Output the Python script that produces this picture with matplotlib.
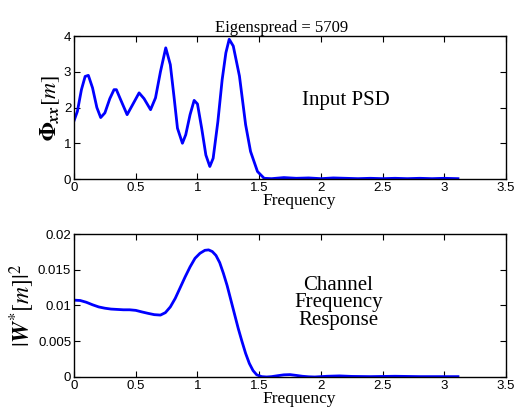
import matplotlib.pyplot as plt

plt.rcParams['mathtext.fontset'] = 'stix'

# input PSD (top panel)
psd_freq = [0.0, 0.027, 0.06, 0.09, 0.116, 0.15, 0.185, 0.216, 0.25, 0.29, 0.324, 0.343,
            0.38, 0.43, 0.47, 0.527, 0.567, 0.62, 0.66, 0.70, 0.743, 0.78, 0.81, 0.838,
            0.878, 0.905, 0.94, 0.973, 1.0, 1.035, 1.068, 1.1, 1.127, 1.165, 1.2, 1.23,
            1.257, 1.29, 1.34, 1.39, 1.43, 1.486, 1.54, 1.6, 1.7, 1.8, 1.9, 2.0, 2.1,
            2.2, 2.3, 2.4, 2.5, 2.6, 2.7, 2.8, 2.9, 3.0, 3.11]
psd_vals = [1.63, 1.89, 2.5, 2.87, 2.90, 2.55, 2.0, 1.72, 1.85, 2.25, 2.50, 2.50,
            2.2, 1.80, 2.05, 2.41, 2.25, 1.94, 2.27, 3.0, 3.67, 3.2, 2.3, 1.42,
            1.0, 1.24, 1.8, 2.2, 2.1, 1.4, 0.67, 0.35, 0.58, 1.6, 2.78, 3.53,
            3.91, 3.72, 2.88, 1.52, 0.77, 0.21, 0.02, 0.01, 0.04, 0.02, 0.03, 0.01, 0.03,
            0.02, 0.01, 0.02, 0.01, 0.02, 0.01, 0.02, 0.01, 0.02, 0.01]

# channel response (bottom panel)
ch_freq = [0.0, 0.05, 0.1, 0.15, 0.2, 0.25, 0.3, 0.35, 0.4, 0.45, 0.5, 0.55, 0.6,
           0.65, 0.7, 0.74, 0.78, 0.82, 0.86, 0.9, 0.94, 0.98, 1.02, 1.06, 1.09,
           1.12, 1.15, 1.18, 1.21, 1.24, 1.27, 1.3, 1.33, 1.36, 1.39, 1.42, 1.45,
           1.48, 1.52, 1.56, 1.6, 1.65, 1.7, 1.75, 1.8, 1.85, 1.9, 1.95, 2.05, 2.15,
           2.25, 2.4, 2.6, 2.8, 3.0, 3.11]
ch_vals = [0.01075, 0.0107, 0.01045, 0.0101, 0.0098, 0.00962, 0.0095, 0.00945,
           0.0094, 0.0094, 0.00932, 0.0091, 0.0089, 0.00872, 0.00866, 0.0090,
           0.0098, 0.0110, 0.0125, 0.0140, 0.0154, 0.0166, 0.0173, 0.01772, 0.01778,
           0.01755, 0.0170, 0.0160, 0.0145, 0.0128, 0.0108, 0.0088, 0.0068, 0.0050,
           0.0033, 0.0019, 0.0009, 0.0003, 0.00005, 0.0, 0.00005, 0.00018, 0.0003,
           0.00033, 0.00022, 0.0001, 0.00003, 0.0, 0.0001, 0.00015, 0.00008,
           0.00005, 0.0001, 0.00005, 0.00005, 0.00005]

fig = plt.figure(figsize=(5.25, 4.12), dpi=100)
ax1 = fig.add_axes([0.141, 0.5655, 0.823, 0.347])
ax2 = fig.add_axes([0.141, 0.085, 0.823, 0.347])

serif = 'Liberation Serif'
sans = 'Liberation Sans'

ax1.plot(psd_freq, psd_vals, color='blue', lw=2)
ax1.set_xlim(0, 3.5)
ax1.set_ylim(0, 4)
ax1.set_yticks([0, 1, 2, 3, 4])
ax1.set_title('Eigenspread = 5709', family=serif, fontsize=12, pad=3, x=0.48)
ax1.set_ylabel(r'$\mathbf{\Phi}_{\mathbfit{xx}}[m]$', fontsize=16, labelpad=1)
ax1.set_xlabel('Frequency', family=serif, fontsize=12.5, labelpad=0)
ax1.xaxis.set_label_coords(0.52, -0.1)
ax1.text(2.2, 2.2, 'Input PSD', family=serif, fontsize=15, ha='center', va='center')

ax2.plot(ch_freq, ch_vals, color='blue', lw=2)
ax2.set_xlim(0, 3.5)
ax2.set_ylim(0, 0.02)
ax2.set_yticks([0, 0.005, 0.01, 0.015, 0.02])
ax2.set_yticklabels(['0', '0.005', '0.01', '0.015', '0.02'])
ax2.set_ylabel(r'$|\mathbfit{W}^{*}[m]|^2$', fontsize=17, labelpad=1)
ax2.set_xlabel('Frequency', family=serif, fontsize=12.5, labelpad=0)
ax2.xaxis.set_label_coords(0.52, -0.1)
ax2.text(2.14, 0.0104, 'Channel\nFrequency\nResponse', family=serif, fontsize=15,
         ha='center', va='center', linespacing=0.9)

for ax in (ax1, ax2):
    ax.set_xticks([0, 0.5, 1, 1.5, 2, 2.5, 3, 3.5])
    ax.set_xticklabels(['0', '0.5', '1', '1.5', '2', '2.5', '3', '3.5'])
    ax.tick_params(direction='in', top=True, right=True, length=4, labelsize=9.5, pad=2)
    for lab in ax.get_xticklabels() + ax.get_yticklabels():
        lab.set_family(sans)
    for s in ax.spines.values():
        s.set_linewidth(1.0)

fig.savefig('out.png', dpi=100)
